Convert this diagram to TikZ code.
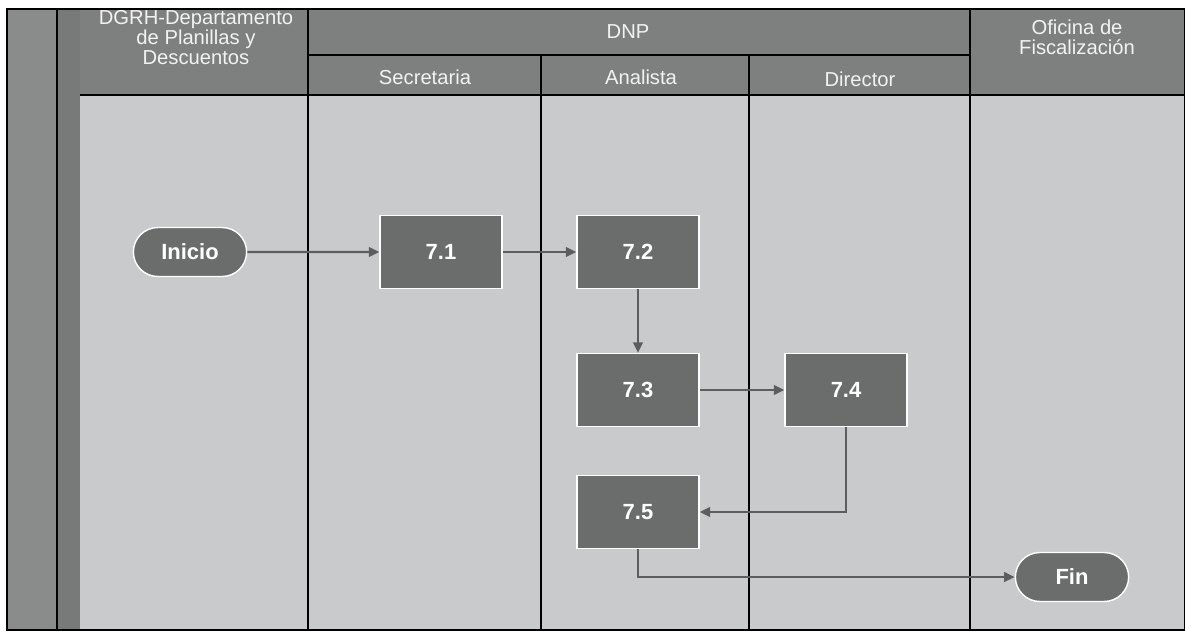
\documentclass[tikz,border=0pt]{standalone}
\usepackage{fontspec}
\setmainfont{Liberation Sans}
\usepackage{xcolor}
\usetikzlibrary{shapes, arrows.meta, positioning}

\definecolor{headgray}{HTML}{7E8080}
\definecolor{bodygray}{HTML}{C8CACB}
\definecolor{stripgray}{HTML}{8A8C8C}
\definecolor{taskgray}{HTML}{6B6D6D}
\definecolor{flowgray}{HTML}{5C5E5E}

\begin{document}
\begin{tikzpicture}[
        x=0.02cm, y=-0.02cm,
        lane/.style={draw=black, line width=0.8pt},
        head/.style={font=\fontsize{11.5}{11.4}\selectfont, text=white!90!gray, align=center},
        task/.style={rectangle, draw=white, thick, fill=taskgray, minimum width=2.44cm, minimum height=1.46cm, font=\fontsize{12.5}{13}\selectfont\bfseries, text=white},
        term/.style={rounded rectangle, draw=white, thick, fill=taskgray, minimum width=2.5cm, minimum height=0.98cm, font=\fontsize{12.5}{13}\selectfont\bfseries, text=white},
        arrow/.style={-{Triangle[length=6pt, width=5.5pt]}, draw=flowgray, line width=1.2pt}
    ]
        \useasboundingbox (0,0) rectangle (1185,633);
        \fill[white] (0,0) rectangle (1185,633);

        % fondo de los carriles
        \fill[bodygray] (80,95) rectangle (1185,630);
        \fill[headgray] (73,9) rectangle (1185,95);
        \fill[stripgray] (7,9) rectangle (80,630);
        \fill[headgray!95!black] (57,9) rectangle (80,630);

        % lineas de los carriles
        \draw[lane] (7,9) rectangle (1185,630);
        \draw[lane] (57,9) -- (57,630);
        \draw[lane] (80,95) -- (1185,95);
        \draw[lane] (308,55) -- (970,55);
        \draw[lane] (308,9) -- (308,630);
        \draw[lane] (541,55) -- (541,630);
        \draw[lane] (749,55) -- (749,630);
        \draw[lane] (970,9) -- (970,630);

        % encabezados
        \node[head] (dgrh) at (196,38) {DGRH-Departamento\\de Planillas y\\Descuentos};
        \node[head] (dnp) at (628,32) {DNP};
        \node[head] (secre) at (425,77) {Secretaria};
        \node[head] (anal) at (641,77) {Analista};
        \node[head] (direc) at (860,79) {Director};
        \node[head] (ofic) at (1077,37) {Oficina de\\Fiscalización};

        % actividades
        \node[term] (inicio) at (190,252) {Inicio};
        \node[task] (t71) at (441,252) {7.1};
        \node[task] (t72) at (638,252) {7.2};
        \node[task] (t73) at (638,390) {7.3};
        \node[task] (t74) at (846,390) {7.4};
        \node[task] (t75) at (638,512) {7.5};
        \node[term] (fin) at (1072,577) {Fin};

        % flujo
        \draw[arrow] (inicio) -- (t71);
        \draw[arrow] (t71) -- (t72);
        \draw[arrow] (t72) -- (t73);
        \draw[arrow] (t73) -- (t74);
        \draw[arrow] (t74) |- (t75);
        \draw[arrow] (t75) |- (fin);
    \end{tikzpicture}
\end{document}
